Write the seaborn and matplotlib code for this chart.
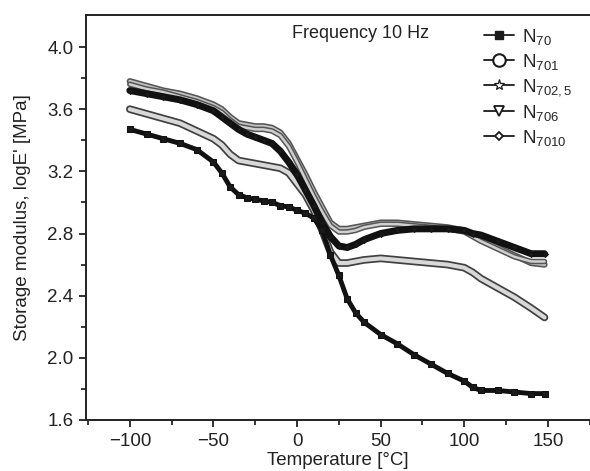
import numpy as np
import pandas as pd
import matplotlib
matplotlib.use("Agg")
import matplotlib.pyplot as plt
import seaborn as sns
from matplotlib.lines import Line2D

sns.set_theme(style="ticks")
plt.rcParams['font.family'] = ['Liberation Sans', 'DejaVu Sans']
plt.rcParams['mathtext.fontset'] = 'custom'
plt.rcParams['mathtext.rm'] = 'Liberation Sans'
plt.rcParams['mathtext.it'] = 'Liberation Sans:italic'

temp = [-100, -90, -80, -70, -60, -50, -45, -40, -35, -30, -25, -20, -15, -10, -5,
        0, 5, 10, 15, 20, 25, 30, 35, 40, 50, 60, 70, 80, 90, 100, 105, 110, 120,
        130, 140, 148]

n70 = [3.47, 3.44, 3.41, 3.38, 3.34, 3.26, 3.19, 3.10, 3.05, 3.03, 3.02, 3.01, 3.00,
       2.98, 2.97, 2.95, 2.93, 2.90, 2.82, 2.66, 2.53, 2.38, 2.29, 2.23, 2.15, 2.09,
       2.02, 1.96, 1.90, 1.85, 1.81, 1.79, 1.79, 1.78, 1.77, 1.77]
n701 = [3.60, 3.57, 3.54, 3.51, 3.46, 3.41, 3.37, 3.31, 3.27, 3.26, 3.25, 3.24, 3.23,
        3.22, 3.19, 3.12, 3.05, 2.95, 2.82, 2.68, 2.61, 2.61, 2.62, 2.63, 2.64, 2.63,
        2.62, 2.61, 2.60, 2.58, 2.55, 2.51, 2.45, 2.39, 2.32, 2.26]
n7025 = [3.78, 3.75, 3.72, 3.70, 3.67, 3.63, 3.60, 3.55, 3.51, 3.50, 3.49, 3.49, 3.48,
         3.45, 3.38, 3.28, 3.18, 3.07, 2.97, 2.87, 2.83, 2.83, 2.84, 2.85, 2.87, 2.87,
         2.86, 2.85, 2.84, 2.82, 2.79, 2.76, 2.71, 2.66, 2.61, 2.60]
n706 = [3.76, 3.73, 3.71, 3.68, 3.65, 3.61, 3.58, 3.53, 3.49, 3.48, 3.47, 3.47, 3.46,
        3.43, 3.36, 3.26, 3.15, 3.04, 2.94, 2.85, 2.81, 2.81, 2.82, 2.84, 2.86, 2.86,
        2.85, 2.84, 2.83, 2.81, 2.78, 2.75, 2.70, 2.65, 2.62, 2.62]
n7010 = [3.72, 3.70, 3.68, 3.66, 3.63, 3.59, 3.55, 3.51, 3.47, 3.44, 3.42, 3.40, 3.38,
         3.33, 3.26, 3.18, 3.08, 2.98, 2.87, 2.78, 2.72, 2.71, 2.73, 2.76, 2.80, 2.82,
         2.83, 2.83, 2.83, 2.82, 2.80, 2.79, 2.75, 2.71, 2.67, 2.67]

labels = ["N$_{70}$", "N$_{701}$", "N$_{702,5}$", "N$_{706}$", "N$_{7010}$"]
x_ticks = [-100, -50, 0, 50, 100, 150]
y_ticks = [1.6, 2.0, 2.4, 2.8, 3.2, 3.6, 4.0]

FS = 13.5
fig = plt.figure(figsize=(5.9, 4.71), dpi=100)
ax = fig.add_axes([86 / 590, 1 - 420 / 471, 1 - 86 / 590, (420 - 15) / 471])

def draw(vals, line_c, inner_c=None, lw=4.0, inner_lw=2.0, marker=None, ms=3, mfc='k'):
    df = pd.DataFrame({"T": temp, "E": vals})
    sns.lineplot(data=df, x="T", y="E", ax=ax, color=line_c, lw=lw, sort=False,
                 legend=False, marker=marker, markersize=ms, markerfacecolor=mfc,
                 markeredgecolor=line_c, solid_capstyle='round')
    if inner_c is not None:
        sns.lineplot(data=df, x="T", y="E", ax=ax, color=inner_c, lw=inner_lw,
                     sort=False, legend=False, solid_capstyle='round')

# gray upper curves
draw(n7025, '#555555', '#c4c4c4', lw=4.5, inner_lw=2.2)
draw(n706, '#555555', '#d0d0d0', lw=4.0, inner_lw=1.8)
# N701 gray band with dark edge
draw(n701, '#404040', '#d8d8d8', lw=5.5, inner_lw=3.0)
# N7010 thick dark
draw(n7010, '#111111', None, lw=5.0, marker='D', ms=3)
# N70 black squares
draw(n70, '#111111', None, lw=3.5, marker='s', ms=4)

ax.set_xlim(-126.2, 175.2)
ax.set_ylim(1.6, 4.206)
ax.set_xticks(x_ticks)
ax.set_xticklabels(["\u2212100", "\u221250", "0", "50", "100", "150"])
ax.set_yticks(y_ticks)
ax.set_yticklabels([f"{v:.1f}" for v in y_ticks])
ax.set_xticks([-125, -75, -25, 25, 75, 125, 175], minor=True)
ax.set_yticks([1.8, 2.2, 2.6, 3.0, 3.4, 3.8], minor=True)
ax.tick_params(axis='both', which='major', direction='out', length=5, width=1.3,
               labelsize=FS, colors='#222222', pad=2)
ax.tick_params(axis='both', which='minor', direction='out', length=3.5, width=1.3)
ax.tick_params(axis='x', which='major', pad=4)
ax.tick_params(axis='y', which='major', pad=4)
for s in ['left', 'bottom', 'top']:
    ax.spines[s].set_linewidth(1.4)
    ax.spines[s].set_color('#222222')
ax.spines['right'].set_visible(False)

ax.set_xlabel("Temperature [\u00b0C]", fontsize=FS, color='#222222', labelpad=2)
ax.set_ylabel("Storage modulus, logE' [MPa]", fontsize=FS, color='#222222', labelpad=12)

fig.text(361 / 590, 1 - 33 / 471, "Frequency 10 Hz", fontsize=FS - 0.5,
         ha='center', va='center', color='#222222')

handles = [
    Line2D([], [], color='k', lw=1.3, marker='s', ms=5.5, mfc='k', mec='k'),
    Line2D([], [], color='k', lw=1.3, marker='o', ms=9, mfc='white', mec='k', mew=1.5),
    Line2D([], [], color='k', lw=1.3, marker='*', ms=8, mfc='white', mec='k', mew=0.9),
    Line2D([], [], color='k', lw=1.3, marker='v', ms=7, mfc='white', mec='k', mew=1.3),
    Line2D([], [], color='k', lw=1.3, marker='D', ms=4.5, mfc='white', mec='k', mew=1.3),
]
leg = ax.legend(handles, labels, loc='upper left', bbox_to_anchor=(0.775, 0.99),
                frameon=False, fontsize=FS, handlelength=1.6, handletextpad=0.4,
                labelspacing=0.27, borderaxespad=0)

fig.savefig("out.png", dpi=100)
